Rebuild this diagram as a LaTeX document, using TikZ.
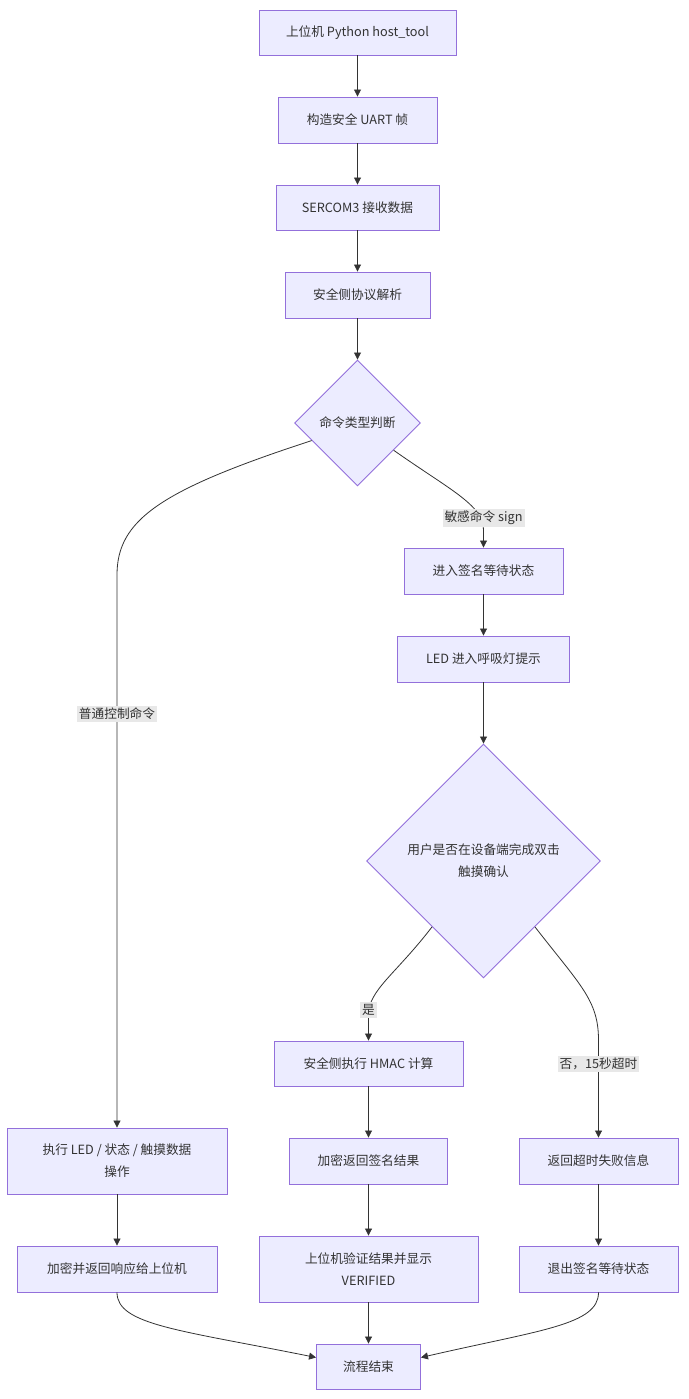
\documentclass[tikz,border=0pt]{standalone}
\usepackage{fontspec}
\setmainfont{Noto Sans CJK SC}
\usetikzlibrary{shapes.geometric,arrows.meta}
\definecolor{nodefill}{HTML}{ECECFF}
\definecolor{nodeline}{HTML}{9370DB}
\definecolor{edgeline}{HTML}{333333}
\definecolor{lblbg}{HTML}{E8E8E8}
\definecolor{txt}{HTML}{333333}
\tikzset{
  box/.style={draw=nodeline, fill=nodefill, line width=0.9pt, inner sep=0pt, align=center, text=txt, font=\fontsize{12.7}{22}\selectfont},
  decision/.style={diamond, aspect=1, draw=nodeline, fill=nodefill, line width=0.9pt, inner sep=0pt, align=center, text=txt, font=\fontsize{12.7}{22}\selectfont},
  flow/.style={draw=edgeline, line width=0.8pt, -{Triangle[length=7pt,width=7pt]}},
  lbl/.style={fill=lblbg, inner sep=2pt, text=txt, font=\fontsize{12.7}{15}\selectfont}
}
\begin{document}
\begin{tikzpicture}[x=1pt,y=-1pt]
\useasboundingbox (0,0) rectangle (688,1399);
\fill[white] (0,0) rectangle (688,1399);

\node[box, minimum width=197, minimum height=45] (n1) at (357.5,32.5) {上位机 Python host\_tool};
\node[box, minimum width=159, minimum height=46] (n2) at (357.5,120) {构造安全 UART 帧};
\node[box, minimum width=163, minimum height=45] (n3) at (357.5,207.5) {SERCOM3 接收数据};
\node[box, minimum width=145, minimum height=46] (n4) at (357.5,295) {安全侧协议解析};
\node[decision, minimum width=126, minimum height=126] (d1) at (357.5,423) {命令类型判断};
\node[box, minimum width=159, minimum height=46] (n5) at (483.5,571) {进入签名等待状态};
\node[box, minimum width=172, minimum height=46] (n6) at (483.5,659) {LED 进入呼吸灯提示};
\node[decision, minimum width=234, minimum height=234] (d2) at (483.5,861) {用户是否在设备端完成双击\\触摸确认};
\node[box, minimum width=189, minimum height=45] (n7) at (368.5,1063.5) {安全侧执行 HMAC 计算};
\node[box, minimum width=158, minimum height=46] (n8) at (368.5,1161) {加密返回签名结果};
\node[box, minimum width=159, minimum height=46] (n9) at (598.5,1161) {返回超时失败信息};
\node[box, minimum width=220, minimum height=66] (n10) at (117,1161) {执行 LED / 状态 / 触摸数据\\操作};
\node[box, minimum width=200, minimum height=46] (n11) at (117,1269) {加密并返回响应给上位机};
\node[box, minimum width=219, minimum height=66] (n12) at (368.5,1269) {上位机验证结果并显示\\VERIFIED};
\node[box, minimum width=159, minimum height=46] (n13) at (598.5,1269) {退出签名等待状态};
\node[box, minimum width=104, minimum height=45] (n14) at (368.5,1366.5) {流程结束};

\draw[flow] (n1) -- (n2);
\draw[flow] (n2) -- (n3);
\draw[flow] (n3) -- (n4);
\draw[flow] (n4) -- (d1);
\draw[flow] (d1.201) .. controls (160,490) and (117,520) .. (117,575) -- (n10.north);
\node[lbl] (l1) at (117,714) {普通控制命令};
\draw[flow] (d1.-37) .. controls (450,490) and (483.5,505) .. (483.5,530) -- (n5.north);
\node[lbl] (l2) at (483.5,518) {敏感命令 sign};
\draw[flow] (n5) -- (n6);
\draw[flow] (n6) -- (d2);
\draw[flow] (d2.232) .. controls (395,975) and (368.5,990) .. (368.5,1015) -- (n7.north);
\node[lbl] (l3) at (368.5,1010) {是};
\draw[flow] (d2.-52) .. controls (580,985) and (598.5,1000) .. (598.5,1040) -- (n9.north);
\node[lbl] (l4) at (598.5,1064) {否，15秒超时};
\draw[flow] (n7) -- (n8);
\draw[flow] (n8) -- (n12);
\draw[flow] (n12) -- (n14);
\draw[flow] (n10) -- (n11);
\draw[flow] (n9) -- (n13);
\draw[flow] (n11.south) .. controls (117,1325) and (180,1330) .. ([yshift=9pt]n14.west);
\draw[flow] (n13.south) .. controls (598.5,1325) and (540,1330) .. ([yshift=9pt]n14.east);
\end{tikzpicture}
\end{document}
